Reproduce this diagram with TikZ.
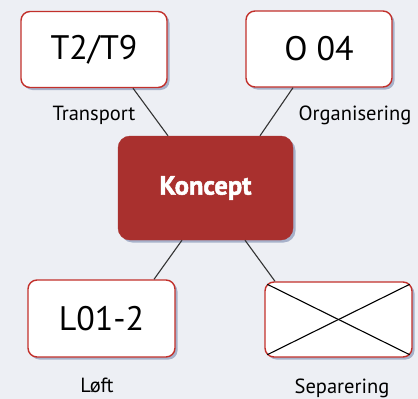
\documentclass[tikz,border=0pt]{standalone}
\usepackage{fontspec}
\setmainfont{PT Sans}
\newfontfamily\heavyfont{PT Sans}[BoldFeatures={FakeBold=1.8}]
\usepackage{xcolor}
\definecolor{bgGray}{HTML}{EDEFF4}
\definecolor{boxRed}{HTML}{C2302B}
\definecolor{fillRed}{HTML}{A9302E}
\definecolor{shadeBlue}{HTML}{6E7FA8}
\usetikzlibrary{calc,shadows}

\tikzset{
  codebox/.style={draw=boxRed, line width=1.4pt, fill=white, rounded corners=9pt,
    minimum width=146pt, minimum height=76pt, font=\fontsize{34}{36}\selectfont,
    drop shadow={shadow xshift=2.5pt, shadow yshift=-2.5pt, fill=shadeBlue, opacity=0.55}},
  keybox/.style={draw=fillRed, fill=fillRed, rounded corners=12pt, text=white,
    minimum width=175pt, minimum height=104pt, font=\fontsize{26.5}{28}\selectfont\heavyfont\bfseries,
    drop shadow={shadow xshift=2.5pt, shadow yshift=-2.5pt, fill=shadeBlue, opacity=0.55}},
  tag/.style={font=\fontsize{20.5}{22}\selectfont},
  link/.style={line width=1.1pt, draw=black!80}
}

\begin{document}
\begin{tikzpicture}[x=1pt, y=-1pt]
  \fill[bgGray] (0,0) rectangle (418,399);
  \useasboundingbox (0,0) rectangle (418,399);
  % ---- boxes ----
  \node[codebox] (t2) at (94,49.5) {T2/T9};
  \node[codebox] (o04) at (319,49) {O 04};
  \node[keybox] (koncept) at (205.5,188) {Koncept};
  \node[codebox, minimum width=147pt, minimum height=77pt] (l01) at (101.5,318.5) {L01-2};
  \node[codebox, minimum width=147pt, minimum height=75pt] (sep) at (338.5,319.5) {};
  \draw[line width=1.1pt] ($(sep.north west)+(3,3)$) -- ($(sep.south east)+(-3,-3)$);
  \draw[line width=1.1pt] ($(sep.south west)+(3,-3)$) -- ($(sep.north east)+(-3,3)$);
  % ---- labels ----
  \node[tag] (ttrans) at (94,115) {Transport};
  \node[tag] (torg) at (355,115) {Organisering};
  \node[tag] (tloft) at (97,385) {Løft};
  \node[tag] (tsep) at (342,388) {Separering};
  % ---- links ----
  \draw[link] ($(t2.south)+(39,0)$) -- ($(koncept.north)+(-37.5,0)$);
  \draw[link] ($(o04.south)+(-26,0)$) -- ($(koncept.north)+(54.5,0)$);
  \draw[link] ($(koncept.south)+(-23.5,0)$) -- ($(l01.north)+(52.5,0)$);
  \draw[link] ($(koncept.south)+(39.5,0)$) -- ($(sep.north)+(-63.5,0)$);
\end{tikzpicture}
\end{document}
